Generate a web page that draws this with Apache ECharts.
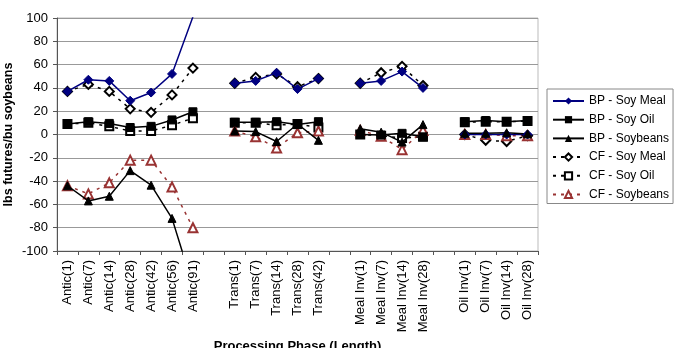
<!DOCTYPE html>
<html>
<head>
<meta charset="utf-8">
<script src="https://cdn.jsdelivr.net/npm/echarts@6/dist/echarts.min.js"></script>
<style>
  html, body { margin: 0; padding: 0; background: #fff; }
  #chart { width: 677px; height: 348px; }
</style>
</head>
<body>
<div id="chart"></div>
<script>
  // categories, blanks separate the phases
  var phases = ['Antic(1)', 'Antic(7)', 'Antic(14)', 'Antic(28)', 'Antic(42)', 'Antic(56)', 'Antic(91)', ' ',
    'Trans(1)', 'Trans(7)', 'Trans(14)', 'Trans(28)', 'Trans(42)', '  ',
    'Meal Inv(1)', 'Meal Inv(7)', 'Meal Inv(14)', 'Meal Inv(28)', '   ',
    'Oil Inv(1)', 'Oil Inv(7)', 'Oil Inv(14)', 'Oil Inv(28)']

  var bpSoyMeal = [37, 47, 46, 29, 36, 52, 101, null, 44, 46, 53, 39, 48, null, 44, 46, 54, 40, null, 0, 0, 0, 0]
  var bpSoyOil = [9, 11, 9.5, 6, 7, 12.5, 19.5, null, 10.5, 10.5, 11, 8.5, 11, null, 0, -0.5, 1, -2, null, 11, 12, 11, 12]
  var bpSoybeans = [-44, -57, -53, -31, -43.5, -72, -130, null, 3, 2.5, -6, 9, -5, null, 5, 2, -6.5, 8.5, null, 1, 1, 1.5, 0.5]
  var cfSoyMeal = [37, 43, 37, 22, 19, 34, 57, null, 44, 49, 52, 41, 48, null, 44, 53, 58.5, 42, null, 0, -5, -6, -1]
  var cfSoyOil = [9, 10, 7, 3, 3, 8, 14, null, 10, 10, 8, 9, 6, null, 0, -1, -3, -2, null, 10.5, 11, 11, 11.5]
  var cfSoybeans = [-44, -51, -41.5, -22, -22, -45, -80, null, 3, -2, -11.5, 1.5, 3, null, 3.5, -1.5, -13, 3.5, null, 0, 0, -1, -1]

  var yTicks = {min: -100, max: 100, step: 20}

  var myChart = echarts.init(document.getElementById('chart'))

  function bp(name, data, color, symbol, size) {
    return {
      name: name,
      type: 'line',
      data: data,
      symbol: symbol,
      symbolSize: size,
      showAllSymbol: true,
      connectNulls: false,
      clip: true,
      z: 3,
      lineStyle: {color: color, width: 1.5},
      itemStyle: {color: color, borderColor: color}
    }
  }

  function cf(name, data, color, symbol, size) {
    return {
      name: name,
      type: 'line',
      data: data,
      symbol: 'empty' + symbol,
      symbolSize: size,
      showAllSymbol: true,
      connectNulls: false,
      clip: true,
      z: 2,
      lineStyle: {color: color, width: 1.5, type: [3, 5]},
      itemStyle: {color: color, borderColor: color, borderWidth: 1}
    }
  }

  myChart.setOption({
    animation: false,
    textStyle: {fontFamily: 'Liberation Sans, Arial, sans-serif'},
    grid: {
      left: 57, right: 139, top: 18, bottom: 97,
      outerBoundsMode: 'none',
      containLabel: false,
      show: true, borderColor: '#bbb', borderWidth: 1
    },
    legend: {
      orient: 'vertical',
      left: 547,
      top: 89,
      padding: [6, 4, 3, 5],
      itemWidth: 31,
      itemHeight: 9,
      itemGap: 6.7,
      borderColor: '#888',
      borderWidth: 1,
      textStyle: {fontSize: 12, color: '#000'},
      data: ['BP - Soy Meal', 'BP - Soy Oil', 'BP - Soybeans', 'CF - Soy Meal', 'CF - Soy Oil', 'CF - Soybeans']
    },
    xAxis: {
      type: 'category',
      data: phases,
      boundaryGap: true,
      name: 'Processing Phase (Length)',
      nameLocation: 'middle',
      nameGap: 89,
      nameMoveOverlap: false,
      nameTextStyle: {fontSize: 13, fontWeight: 'bold', color: '#000'},
      axisLine: {onZero: false, lineStyle: {color: '#555'}},
      axisTick: {show: true, interval: 0, length: 4, lineStyle: {color: '#555'}},
      axisLabel: {rotate: 90, interval: 0, fontSize: 13, color: '#000', margin: 9},
      splitLine: {show: false}
    },
    yAxis: {
      type: 'value',
      min: yTicks.min,
      max: yTicks.max,
      interval: yTicks.step,
      name: 'lbs futures/bu soybeans',
      nameLocation: 'middle',
      nameGap: 42,
      nameMoveOverlap: false,
      nameTextStyle: {fontSize: 12.5, fontWeight: 'bold', color: '#000'},
      axisLine: {show: true, lineStyle: {color: '#555'}},
      axisTick: {show: true, length: 4, lineStyle: {color: '#555'}},
      axisLabel: {fontSize: 13, color: '#000', margin: 9},
      splitLine: {lineStyle: {color: '#999', width: 1}}
    },
    series: [
      bp('BP - Soy Meal', bpSoyMeal, '#000080', 'diamond', 9),
      bp('BP - Soy Oil', bpSoyOil, '#000', 'rect', 8),
      bp('BP - Soybeans', bpSoybeans, '#000', 'triangle', 8),
      cf('CF - Soy Meal', cfSoyMeal, '#000', 'diamond', 9),
      cf('CF - Soy Oil', cfSoyOil, '#000', 'rect', 8),
      cf('CF - Soybeans', cfSoybeans, '#993333', 'triangle', 9)
    ]
  })
</script>
</body>
</html>
